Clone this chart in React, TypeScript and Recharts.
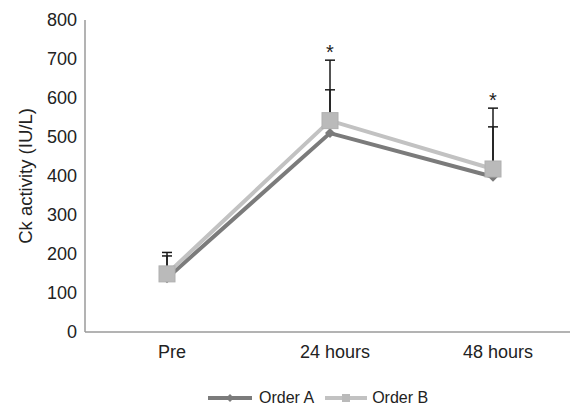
import React from "react";
import {
  LineChart,
  Line,
  XAxis,
  YAxis,
  ErrorBar,
  Legend,
  LabelList,
} from "recharts";

const categories = ["Pre", "24 hours", "48 hours"];
const orderA = [138, 510, 398];
const orderB = [149, 542, 418];
const errorA = [57, 111, 128];
const errorB = [55, 155, 156];
const significance = ["", "*", "*"];
const yTicks = [0, 100, 200, 300, 400, 500, 600, 700, 800];

const COLOR_A = "#7b7b7b";
const COLOR_B = "#c2c2c2";
const FONT = "'Liberation Sans', Arial, sans-serif";

// error bars hang on Order A but start at Order B's value,
// so the square marker hides their bottom caps
const data = categories.map((cat, i) => {
  const topA = orderA[i] + errorA[i];
  const topB = orderB[i] + errorB[i];
  const low = orderA[i] - orderB[i];
  return {
    cat,
    a: orderA[i],
    b: orderB[i],
    barA: [low, topA - orderA[i]],
    barB: [low, topB - orderA[i]],
    sigTop: significance[i] ? Math.max(topA, topB) : null,
    sig: significance[i],
  };
});

const Diamond = (props: any) => {
  const { cx, cy } = props;
  if (cx == null || cy == null) return null;
  const r = 5;
  return (
    <path
      d={`M${cx},${cy - r}L${cx + r},${cy}L${cx},${cy + r}L${cx - r},${cy}Z`}
      fill={COLOR_A}
    />
  );
};

const Square = (props: any) => {
  const { cx, cy } = props;
  if (cx == null || cy == null) return null;
  const s = 16;
  return (
    <rect
      x={cx - s / 2}
      y={cy - s / 2}
      width={s}
      height={s}
      fill="#bababa"
      stroke="#b0b0b0"
      strokeWidth={1}
    />
  );
};

const LegendContent = () => (
  <div
    style={{
      display: "flex",
      alignItems: "center",
      height: 20,
      paddingLeft: 208,
      fontFamily: FONT,
      fontSize: 16,
      color: "#222",
    }}
  >
    <svg width={44} height={12}>
      <line x1={0} y1={6} x2={44} y2={6} stroke={COLOR_A} strokeWidth={4} />
      <path d="M22,2L26,6L22,10L18,6Z" fill={COLOR_A} />
    </svg>
    <span style={{ marginLeft: 7, marginRight: 11 }}>Order A</span>
    <svg width={42} height={12}>
      <line x1={0} y1={6} x2={42} y2={6} stroke={COLOR_B} strokeWidth={4} />
      <rect x={17} y={2} width={8} height={8} fill="#bababa" />
    </svg>
    <span style={{ marginLeft: 5 }}>Order B</span>
  </div>
);

export default function App() {
  return (
    <div style={{ position: "absolute", left: 0, top: 0, background: "#fff" }}>
      <LineChart
        width={570}
        height={405}
        data={data}
        margin={{ top: 20, right: 0, left: 0, bottom: 23 }}
      >
        <XAxis
          dataKey="cat"
          height={30}
          padding={{ left: 82, right: 77 }}
          tickLine={false}
          tickMargin={7}
          axisLine={{ stroke: "#9a9a9a", strokeWidth: 1.5 }}
          tick={{ fill: "#222", fontSize: 18, fontFamily: FONT, dx: 5 }}
        />
        <YAxis
          width={85}
          domain={[0, 800]}
          ticks={yTicks}
          interval={0}
          tickLine={false}
          axisLine={{ stroke: "#9a9a9a", strokeWidth: 1.5 }}
          tick={{ fill: "#222", fontSize: 18, fontFamily: FONT }}
          label={{
            value: "Ck activity (IU/L)",
            angle: -90,
            position: "insideLeft",
            offset: 25,
            style: {
              textAnchor: "middle",
              fill: "#222",
              fontSize: 18.5,
              fontFamily: FONT,
            },
          }}
        />
        <Legend
          verticalAlign="bottom"
          content={<LegendContent />}
          wrapperStyle={{ top: 388, bottom: "auto", left: 0, width: 570 }}
        />
        <Line
          dataKey="a"
          name="Order A"
          stroke={COLOR_A}
          strokeWidth={4}
          dot={<Diamond />}
          activeDot={false}
          isAnimationActive={false}
        >
          <ErrorBar dataKey="barA" direction="y" width={5} stroke="#1a1a1a" strokeWidth={1.5} zIndex={300} />
          <ErrorBar dataKey="barB" direction="y" width={5} stroke="#1a1a1a" strokeWidth={1.5} zIndex={300} />
        </Line>
        <Line
          dataKey="b"
          name="Order B"
          stroke={COLOR_B}
          strokeWidth={4}
          dot={<Square />}
          activeDot={false}
          isAnimationActive={false}
        />
        <Line
          dataKey="sigTop"
          stroke="none"
          dot={false}
          activeDot={false}
          legendType="none"
          isAnimationActive={false}
        >
          <LabelList
            dataKey="sig"
            position="top"
            offset={1}
            style={{ fill: "#222", fontSize: 20, fontFamily: FONT }}
          />
        </Line>
      </LineChart>
    </div>
  );
}
